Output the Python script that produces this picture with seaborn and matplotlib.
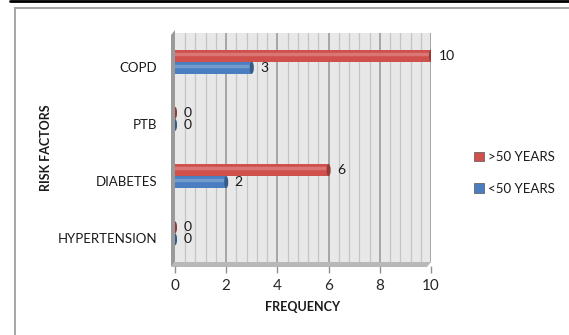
import matplotlib
matplotlib.use("Agg")
import matplotlib.pyplot as plt
from matplotlib.patches import Rectangle, Ellipse, Polygon
from matplotlib.lines import Line2D
from matplotlib.transforms import ScaledTranslation
import seaborn as sns
import pandas as pd

# Risk factor counts by age group
categories = ["COPD", "PTB", "DIABETES", "HYPERTENSION"]
over_50 = [10, 0, 6, 0]
under_50 = [3, 0, 2, 0]
series = [">50 YEARS", "<50 YEARS"]
x_ticks = [0, 2, 4, 6, 8, 10]

df = pd.DataFrame({
    "Risk": categories * 2,
    "Group": [series[0]] * len(categories) + [series[1]] * len(categories),
    "Frequency": over_50 + under_50,
})

sns.set_theme(style="white")
plt.rcParams["font.family"] = ["Lato", "DejaVu Sans"]

red = "#d0504d"
blue = "#4a7ec0"
palette = {series[0]: red, series[1]: blue}
text_col = "#1a1a1a"

fig = plt.figure(figsize=(5.69, 3.35), dpi=100)
W, H = 569, 335

def fx(px):
    return px / W

def fy(py):
    return 1 - py / H

top_px, bot_px = 33, 262
ax = fig.add_axes([fx(175), fy(bot_px), fx(431) - fx(175), fy(top_px) - fy(bot_px)])
ax_h = bot_px - top_px
ax_w = 431 - 175

sns.barplot(data=df, y="Risk", x="Frequency", hue="Group", hue_order=series,
            order=categories, palette=palette, orient="h", width=0.42,
            saturation=1, ax=ax, legend=False, edgecolor="none")

ax.set_xlim(0, 10)
ax.set_facecolor("#e8e8e8")
for s in ax.spines.values():
    s.set_visible(False)

# Back wall gridlines: majors every 2, minors every 0.4
for v in [i * 0.4 for i in range(1, 26)]:
    major = abs(v / 2 - round(v / 2)) < 1e-6
    ax.axvline(v, color="#a0a0a0" if major else "#c4c4c4",
               lw=1.3 if major else 0.9, zorder=0.5)

# Left side wall and floor of the 3D frame
trans = ax.transAxes
dx = 4 / ax_w
dy = 5 / ax_h
ax.add_patch(Polygon([(-dx, -dy), (0.0, 0.0), (0.0, 1.0 + 3 / ax_h), (-dx, 1.0 - 2 / ax_h)],
                     closed=True, transform=trans, facecolor="#9a9a9a",
                     edgecolor="none", clip_on=False, zorder=0.4))
ax.add_patch(Polygon([(-dx, -dy), (0.0, 0.0), (1.0, 0.0), (1.0 - dx, -dy)],
                     closed=True, transform=trans, facecolor="#b8b8b8",
                     edgecolor="none", clip_on=False, zorder=0.6))

# Cylinder ends and highlight on each bar
for patch in list(ax.patches):
    if not isinstance(patch, Rectangle):
        continue
    x0 = patch.get_x()
    w = patch.get_width()
    y0 = patch.get_y()
    h = patch.get_height()
    fc = patch.get_facecolor()
    dark = tuple(c * 0.72 for c in fc[:3])
    patch.set_zorder(2)
    ax.add_patch(Ellipse((x0 + w, y0 + h / 2), 0.16, h, facecolor=dark,
                         edgecolor="none", zorder=2.1))
    if w > 0:
        ax.add_line(Line2D([x0, x0 + w], [y0 + h * 0.35, y0 + h * 0.35],
                           color="white", alpha=0.22, lw=2.5, zorder=2.05))

ax.set_ylim(3.5, -0.5)

# Value labels at the bar ends
for cont in ax.containers:
    ax.bar_label(cont, padding=6, fontsize=10, color=text_col)

ax.set_xticks(x_ticks)
ax.set_xticklabels([str(t) for t in x_ticks], fontsize=9.5, color=text_col)
ax.spines["bottom"].set_position(("outward", 3))
ax.tick_params(axis="x", bottom=True, length=5, width=1, color="#909090", pad=4)
ax.tick_params(axis="y", left=False, length=0, pad=13, labelsize=9.5, labelcolor=text_col)
shift = ScaledTranslation(0, -5 / 100, fig.dpi_scale_trans)
for lab in ax.get_yticklabels():
    lab.set_transform(lab.get_transform() + shift)
ax.set_xlabel("FREQUENCY", fontsize=9, fontweight="bold", color=text_col, labelpad=6)
ax.set_ylabel("RISK FACTORS", fontsize=9, fontweight="bold", color=text_col, labelpad=4)

# Legend
handles = [Rectangle((0, 0), 1, 1, facecolor=palette[s], edgecolor="#555555", lw=0.5)
           for s in series]
fig.legend(handles, series, loc="center left", bbox_to_anchor=(fx(462), fy(173)),
           frameon=False, fontsize=9.5, handlelength=0.75, handleheight=0.75,
           handletextpad=0.35, labelspacing=1.5, labelcolor=text_col)

# Outer chart frame
fig.add_artist(Rectangle((fx(15), -0.2), 1.2, fy(8) + 0.2, transform=fig.transFigure,
                         facecolor="none", edgecolor="#a6a6a6", lw=1.4))
fig.add_artist(Line2D([fx(10), 1], [fy(1), fy(1)], transform=fig.transFigure,
                      color="black", lw=2))

fig.savefig("out.png", dpi=100)
